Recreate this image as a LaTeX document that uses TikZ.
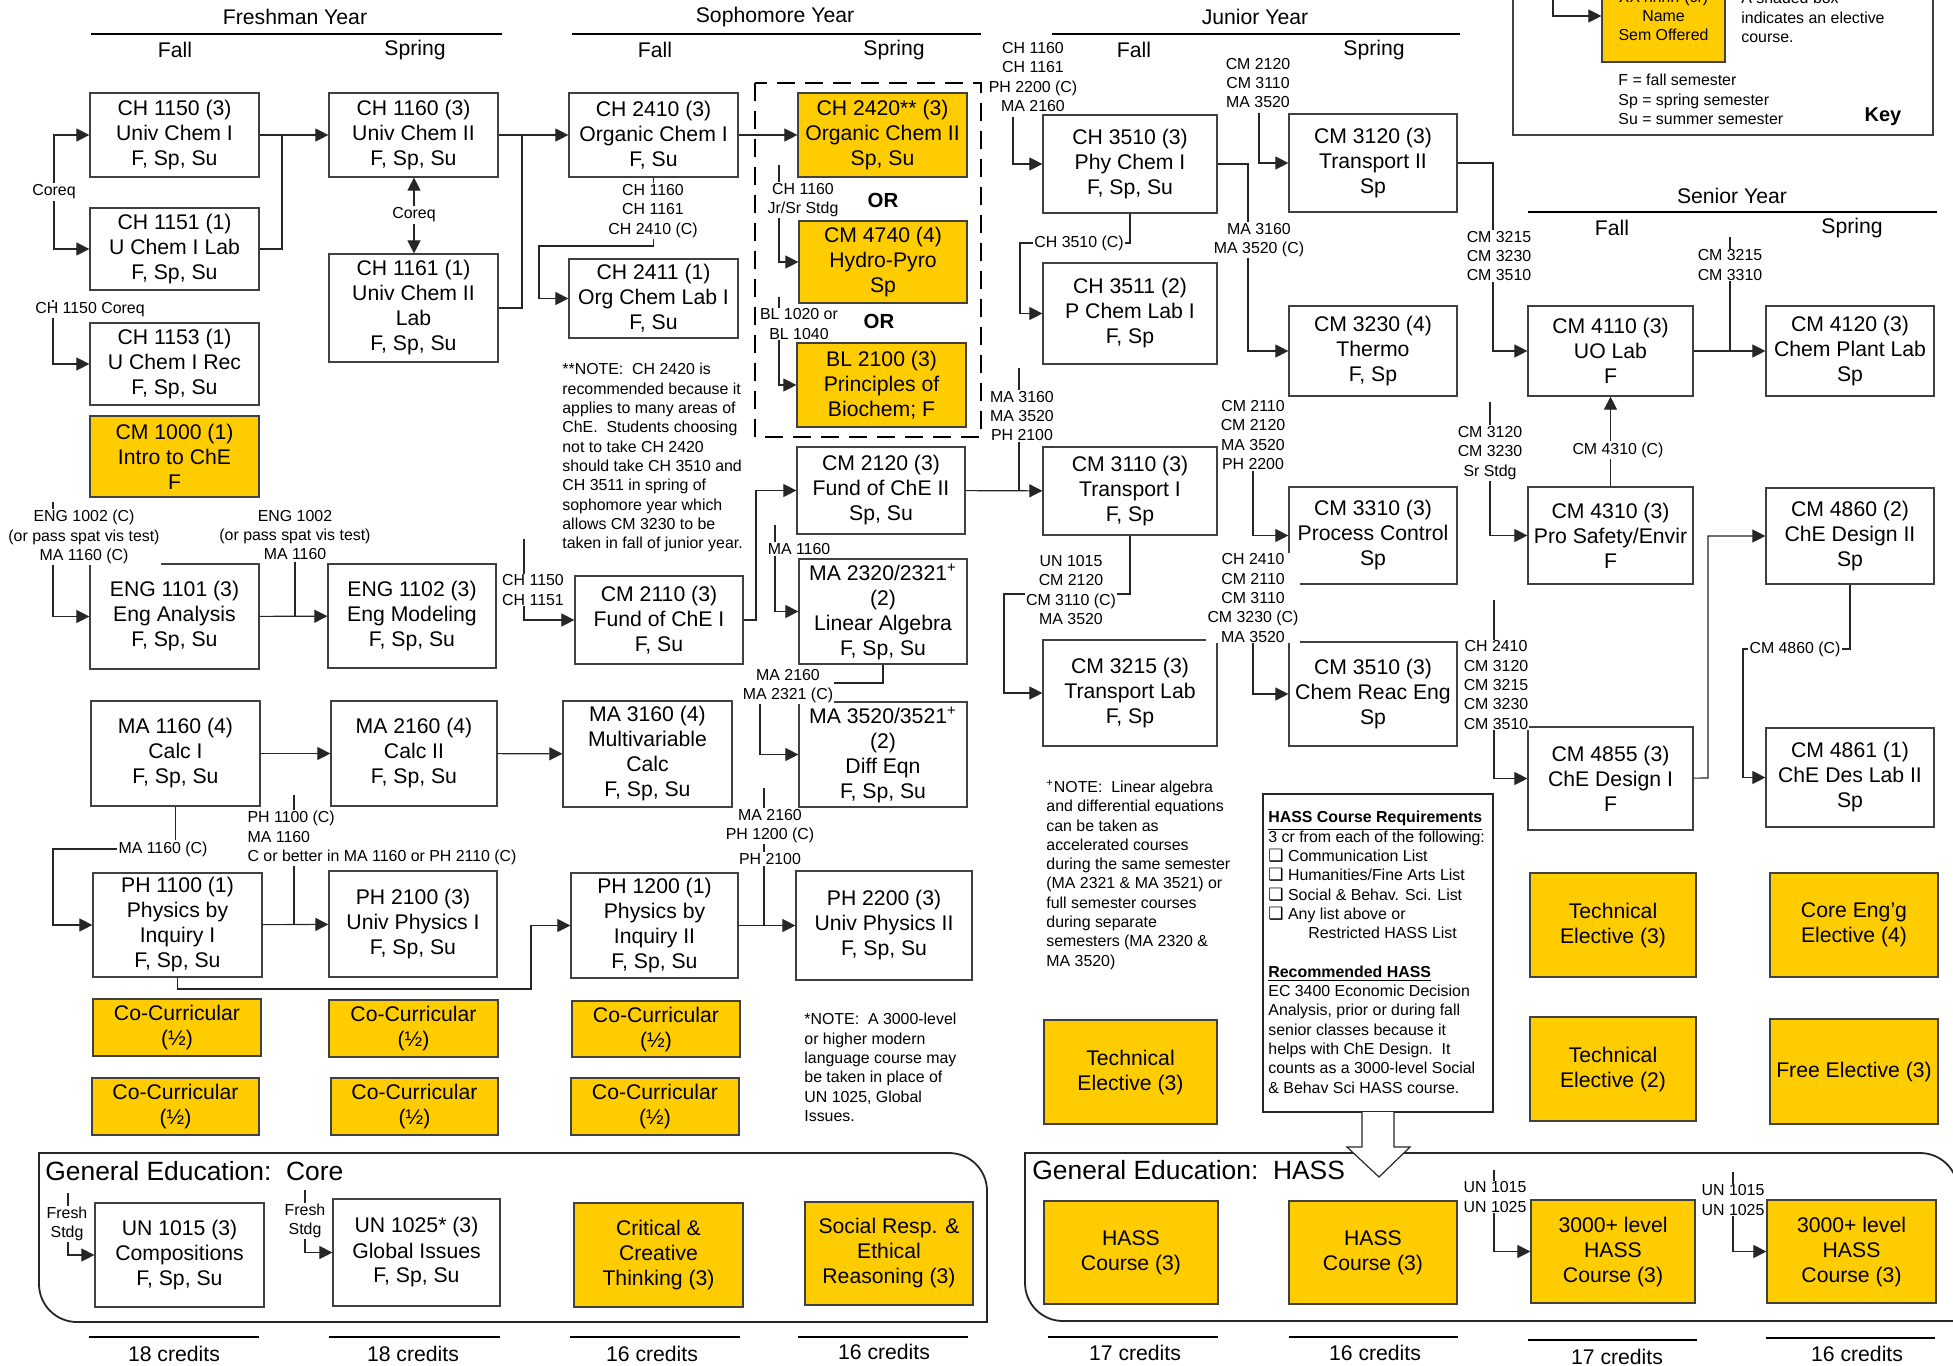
\documentclass[tikz,border=0pt]{standalone}
\usepackage{fontspec}
\setmainfont{Liberation Sans}
\newfontfamily\dvfont{DejaVu Sans}
\usetikzlibrary{arrows.meta}
\definecolor{ccyel}{HTML}{FFCC00}
\newcommand\boxfont{\fontsize{10.6}{12.5}\selectfont}
\newcommand\lblfont{\fontsize{7.95}{9.65}\selectfont}
\newcommand\hdrfont{\fontsize{10.6}{12.5}\selectfont}
\newcommand\genfont{\fontsize{13.2}{15}\selectfont}
\newcommand\hchk{{\dvfont\fontsize{8.5}{9.65}\selectfont ❑}}
\pgfdeclarelayer{fg}
\pgfsetlayers{main,fg}
\newcommand\cbx[7][]{\node[cbox,#1,minimum width={(#5-#3)*0.5pt},minimum height={(#6-#4)*0.5pt}] (#2) at ({(#3+#5)/2},{(#4+#6)/2}) {#7};}
\begin{document}
\begin{tikzpicture}[x=0.5pt,y=-0.5pt,
  cbox/.style={draw=black!75,line width=0.6pt,fill=white,align=center,font=\boxfont,inner sep=1pt},
  ybox/.style={fill=ccyel},
  lbl/.style={fill=white,align=center,font=\lblfont,inner sep=0.6pt},
  note/.style={align=left,font=\lblfont,inner sep=0pt,anchor=north west},
  conn/.style={draw=black!85,line width=0.55pt},
  arr/.style={conn,-{Triangle[length=6.5pt,width=6.5pt]}},
  hdr/.style={font=\hdrfont,inner sep=0pt},
  yrline/.style={line width=1.4pt},
  frame/.style={draw=black!85,line width=0.9pt}]
\fill[white] (0,0) rectangle (1953,1365);
\useasboundingbox (0,0) rectangle (1953,1365);

% ---------- headers ----------
\node[hdr] (hfr) at (295,17) {Freshman Year};
\draw[yrline] (91,34) -- (502,34);
\node[hdr] (hfr1) at (175,50) {Fall};
\node[hdr] (hfr2) at (415,50) {Spring};
\node[hdr] (hso) at (775,17) {Sophomore Year};
\draw[yrline] (572,34) -- (981,34);
\node[hdr] (hso1) at (655,50) {Fall};
\node[hdr] (hso2) at (894,50) {Spring};
\node[hdr] (hju) at (1255,17) {Junior Year};
\draw[yrline] (1052,34) -- (1460,34);
\node[hdr] (hju1) at (1134,50) {Fall};
\node[hdr] (hju2) at (1374,50) {Spring};
\node[hdr] (hse) at (1732,196) {Senior Year};
\draw[yrline] (1528,212) -- (1937,212);
\node[hdr] (hse1) at (1612,228) {Fall};
\node[hdr] (hse2) at (1852,228) {Spring};

% ---------- key ----------
\draw[draw=black!75,line width=0.6pt,fill=white] (1513,-30) rectangle (1933,135);
\node[cbox,ybox,minimum width=61.5pt,minimum height=46pt,font=\lblfont] (keyb) at (1663.5,16) {XX \textit{nnnn} (cr)\\Name\\Sem Offered};
\node[note] (keyt) at (1741,-8) {A shaded box\\indicates an elective\\course.};
\node[note] (keys) at (1618,74) {F = fall semester\\Sp = spring semester\\Su = summer semester};
\node[font=\fontsize{10}{12}\selectfont\bfseries] (keyk) at (1883,117) {Key};
\coordinate (k1) at (1553,-30);
\draw[arr] (k1) |- (keyb);

% ---------- gen ed frames ----------
\draw[frame] (39,1153) -- (949,1153) .. controls (970,1153) and (987,1170) .. (987,1191) -- (987,1322) -- (77,1322) .. controls (56,1322) and (39,1305) .. (39,1284) -- cycle;
\draw[frame] (1025,1153) -- (1920,1153) .. controls (1941,1153) and (1958,1170) .. (1958,1191) -- (1958,1321) -- (1063,1321) .. controls (1042,1321) and (1025,1304) .. (1025,1283) -- cycle;
\node[anchor=west,font=\genfont,inner sep=0pt] (gcore) at (45,1171) {General Education:\ \ Core};
\node[anchor=west,font=\genfont,inner sep=0pt] (ghass) at (1032,1170) {General Education:\ \ HASS};

% ---------- dashed OR box ----------
\draw[line width=1.3pt,dash pattern=on 9pt off 5pt] (755,83) rectangle (981,437);
\node[font=\fontsize{10.2}{12}\selectfont\bfseries] (or1) at (883,200) {OR};
\node[font=\fontsize{10.2}{12}\selectfont\bfseries] (or2) at (879,321) {OR};

% ---------- boxes: freshman ----------
\cbx{ch1150}{90}{93}{259}{177}{CH 1150 (3)\\Univ Chem I\\F, Sp, Su}
\cbx{ch1151}{90}{208}{259}{290}{CH 1151 (1)\\U Chem I Lab\\F, Sp, Su}
\cbx{ch1153}{90}{323}{259}{405}{CH 1153 (1)\\U Chem I Rec\\F, Sp, Su}
\cbx[ybox]{cm1000}{90}{416}{259}{497}{CM 1000 (1)\\Intro to ChE\\F}
\cbx{eng1101}{90}{564}{259}{669}{ENG 1101 (3)\\Eng Analysis\\F, Sp, Su}
\cbx{ma1160}{91}{701}{260}{806}{MA 1160 (4)\\Calc I\\F, Sp, Su}
\cbx{ph1100}{93}{873}{262}{977}{PH 1100 (1)\\Physics by\\Inquiry I\\F, Sp, Su}
\cbx[ybox]{cc1}{93}{999}{261}{1056}{Co-Curricular\\(½)}
\cbx[ybox]{cc2}{92}{1078}{259}{1135}{Co-Curricular\\(½)}
\cbx{un1015}{95}{1203}{264}{1307}{UN 1015 (3)\\Compositions\\F, Sp, Su}
\cbx{ch1160}{329}{93}{498}{177}{CH 1160 (3)\\Univ Chem II\\F, Sp, Su}
\cbx{ch1161}{329}{254}{498}{362}{CH 1161 (1)\\Univ Chem II\\Lab\\F, Sp, Su}
\cbx{eng1102}{328}{564}{496}{668}{ENG 1102 (3)\\Eng Modeling\\F, Sp, Su}
\cbx{ma2160}{331}{701}{497}{806}{MA 2160 (4)\\Calc II\\F, Sp, Su}
\cbx{ph2100}{329}{871}{497}{977}{PH 2100 (3)\\Univ Physics I\\F, Sp, Su}
\cbx[ybox]{cc3}{329}{1000}{498}{1057}{Co-Curricular\\(½)}
\cbx[ybox]{cc4}{331}{1078}{498}{1135}{Co-Curricular\\(½)}
\cbx{un1025}{333}{1199}{500}{1306}{UN 1025* (3)\\Global Issues\\F, Sp, Su}
% ---------- sophomore ----------
\cbx{ch2410}{569}{93}{738}{177}{CH 2410 (3)\\Organic Chem I\\F, Su}
\cbx{ch2411}{569}{259}{738}{338}{CH 2411 (1)\\Org Chem Lab I\\F, Su}
\cbx{cm2110}{575}{576}{743}{664}{CM 2110 (3)\\Fund of ChE I\\F, Su}
\cbx{ma3160}{563}{701}{732}{807}{MA 3160 (4)\\Multivariable\\Calc\\F, Sp, Su}
\cbx{ph1200}{571}{873}{738}{978}{PH 1200 (1)\\Physics by\\Inquiry II\\F, Sp, Su}
\cbx[ybox]{cc5}{572}{1001}{740}{1057}{Co-Curricular\\(½)}
\cbx[ybox]{cc6}{571}{1078}{739}{1135}{Co-Curricular\\(½)}
\cbx[ybox]{crit}{574}{1203}{743}{1307}{Critical \&\\Creative\\Thinking (3)}
\cbx[ybox]{ch2420}{798}{93}{967}{177}{CH 2420** (3)\\Organic Chem II\\Sp, Su}
\cbx[ybox]{cm4740}{799}{221}{967}{303}{CM 4740 (4)\\Hydro-Pyro\\Sp}
\cbx[ybox]{bl2100}{797}{343}{966}{427}{BL 2100 (3)\\Principles of\\Biochem; F}
\cbx{cm2120}{797}{447}{965}{534}{CM 2120 (3)\\Fund of ChE II\\Sp, Su}
\cbx{ma2320}{799}{559}{967}{664}{MA 2320/2321\textsuperscript{+}\\(2)\\Linear Algebra\\F, Sp, Su}
\cbx{ma3520}{799}{702}{967}{807}{MA 3520/3521\textsuperscript{+}\\(2)\\Diff Eqn\\F, Sp, Su}
\cbx{ph2200}{796}{871}{972}{980}{PH 2200 (3)\\Univ Physics II\\F, Sp, Su}
\cbx[ybox]{socr}{805}{1202}{973}{1305}{Social Resp. \&\\Ethical\\Reasoning (3)}
% ---------- junior ----------
\cbx{ch3510}{1043}{115}{1217}{213}{CH 3510 (3)\\Phy Chem I\\F, Sp, Su}
\cbx{ch3511}{1043}{263}{1217}{364}{CH 3511 (2)\\P Chem Lab I\\F, Sp}
\cbx{cm3110}{1043}{447}{1217}{535}{CM 3110 (3)\\Transport I\\F, Sp}
\cbx{cm3215}{1043}{640}{1217}{746}{CM 3215 (3)\\Transport Lab\\F, Sp}
\cbx[ybox]{te1}{1044}{1020}{1217}{1124}{Technical\\Elective (3)}
\cbx[ybox]{hass1}{1044}{1201}{1218}{1304}{HASS\\Course (3)}
\cbx{cm3120}{1289}{114}{1457}{212}{CM 3120 (3)\\Transport II\\Sp}
\cbx{cm3230}{1289}{306}{1457}{396}{CM 3230 (4)\\Thermo\\F, Sp}
\cbx{cm3310}{1289}{487}{1457}{584}{CM 3310 (3)\\Process Control\\Sp}
\cbx{cm3510}{1289}{642}{1457}{746}{CM 3510 (3)\\Chem Reac Eng\\Sp}
\cbx[ybox]{hass2}{1289}{1201}{1457}{1304}{HASS\\Course (3)}
% ---------- senior ----------
\cbx{cm4110}{1528}{306}{1693}{396}{CM 4110 (3)\\UO Lab\\F}
\cbx{cm4310}{1528}{487}{1693}{584}{CM 4310 (3)\\Pro Safety/Envir\\F}
\cbx{cm4855}{1528}{727}{1693}{830}{CM 4855 (3)\\ChE Design I\\F}
\cbx[ybox]{te2}{1530}{873}{1696}{977}{Technical\\Elective (3)}
\cbx[ybox]{te3}{1530}{1017}{1696}{1121}{Technical\\Elective (2)}
\cbx[ybox]{hk1}{1531}{1200}{1695}{1303}{3000+ level\\HASS\\Course (3)}
\cbx{cm4120}{1766}{306}{1934}{396}{CM 4120 (3)\\Chem Plant Lab\\Sp}
\cbx{cm4860}{1766}{488}{1934}{584}{CM 4860 (2)\\ChE Design II\\Sp}
\cbx{cm4861}{1766}{728}{1934}{827}{CM 4861 (1)\\ChE Des Lab II\\Sp}
\cbx[ybox]{ceng}{1770}{873}{1938}{977}{Core Eng’g\\Elective (4)}
\cbx[ybox]{free}{1770}{1019}{1938}{1124}{Free Elective (3)}
\cbx[ybox]{hk2}{1767}{1200}{1936}{1303}{3000+ level\\HASS\\Course (3)}

% ---------- HASS requirement box ----------
\draw[draw=black!85,line width=0.6pt,fill=white] (1263,794) rectangle (1493,1112);
\node[note] (hreq) at (1268,811) {\underline{\textbf{HASS Course Requirements}}\\3 cr from each of the following:\\\hchk\ Communication List\\\hchk\ Humanities/Fine Arts List\\\hchk\ Social \& Behav. Sci. List\\\hchk\ Any list above or\\\hspace*{20pt}Restricted HASS List\\[9.65pt]\underline{\textbf{Recommended HASS}}\\EC 3400 Economic Decision\\Analysis, prior or during fall\\senior classes because it\\helps with ChE Design.\ \ It\\counts as a 3000-level Social\\\& Behav Sci HASS course.};
\draw[draw=black!85,line width=0.6pt,fill=white] (1362,1112) -- (1362,1147) -- (1347,1147) -- (1379,1177) -- (1410,1147) -- (1394,1147) -- (1394,1112);

% ---------- notes ----------
\node[note] (n1) at (562,363) {**NOTE:\ \ CH 2420 is\\recommended because it\\applies to many areas of\\ChE.\ \ Students choosing\\not to take CH 2420\\should take CH 3510 and\\CH 3511 in spring of\\sophomore year which\\allows CM 3230 to be\\taken in fall of junior year.};
\node[note] (n2) at (1046,780) {\textsuperscript{+}NOTE:\ \ Linear algebra\\and differential equations\\can be taken as\\accelerated courses\\during the same semester\\(MA 2321 \& MA 3521) or\\full semester courses\\during separate\\semesters (MA 2320 \&\\MA 3520)};
\node[note] (n3) at (804,1013) {*NOTE:\ \ A 3000-level\\or higher modern\\language course may\\be taken in place of\\UN 1025, Global\\Issues.};

% ---------- credits ----------
\foreach \a/\b/\y/\c/\ty/\t [count=\i] in {89/259/1337/174/1354/18,329/500/1337/413/1354/18,570/740/1337/652/1354/16,798/968/1337/884/1352/16,1048/1218/1337/1135/1353/17,1289/1458/1337/1375/1353/16,1528/1697/1340/1617/1357/17,1766/1935/1338/1857/1354/16}{
  \draw[yrline] (\a,\y) -- (\b,\y);
  \node[hdr] (cr\i) at (\c,\ty) {\t\ credits};
}

% ---------- labels (foreground) ----------
\begin{pgfonlayer}{fg}
\node[lbl] (l1) at (54,192) {Coreq};
\node[lbl] (l2) at (414,215) {Coreq};
\node[lbl] (l3) at (90,310) {CH 1150 Coreq};
\node[lbl] (l4) at (84,537) {ENG 1002 (C)\\(or pass spat vis test)\\MA 1160 (C)};
\node[lbl] (l5) at (295,535) {ENG 1002\\(or pass spat vis test)\\MA 1160};
\node[lbl] (l6) at (163,849) {MA 1160 (C)};
\node[lbl,align=left,anchor=west] (l7) at (246,838) {PH 1100 (C)\\MA 1160\\C or better in MA 1160 or PH 2110 (C)};
\node[lbl] (l8) at (653,211) {CH 1160\\CH 1161\\CH 2410 (C)};
\node[lbl] (l9) at (803,200) {CH 1160\\Jr/Sr Stdg};
\node[lbl] (l10) at (799,324) {BL 1020 or\\BL 1040};
\node[lbl] (l11) at (533,590) {CH 1150\\CH 1151};
\node[lbl] (l12) at (799,549) {MA 1160};
\node[lbl] (l13) at (788,686) {MA 2160\\MA 2321 (C)};
\node[lbl] (l14) at (770,826) {MA 2160\\PH 1200 (C)};
\node[lbl] (l15) at (770,859) {PH 2100};
\node[lbl] (l16) at (1033,77) {CH 1160\\CH 1161\\PH 2200 (C)\\MA 2160};
\node[lbl] (l17) at (1079,243) {CH 3510 (C)};
\node[lbl] (l18) at (1259,240) {MA 3160\\MA 3520 (C)};
\node[lbl] (l19) at (1258,83) {CM 2120\\CM 3110\\MA 3520};
\node[lbl] (l20) at (1022,416) {MA 3160\\MA 3520\\PH 2100};
\node[lbl] (l21) at (1253,435) {CM 2110\\CM 2120\\MA 3520\\PH 2200};
\node[lbl] (l22) at (1071,590) {UN 1015\\CM 2120\\CM 3110 (C)\\MA 3520};
\node[lbl] (l23) at (1253,598) {CH 2410\\CM 2110\\CM 3110\\CM 3230 (C)\\MA 3520};
\node[lbl] (l24) at (1499,256) {CM 3215\\CM 3230\\CM 3510};
\node[lbl] (l25) at (1730,265) {CM 3215\\CM 3310};
\node[lbl] (l26) at (1618,450) {CM 4310 (C)};
\node[lbl] (l27) at (1490,453) {CM 3120\\CM 3230\\Sr Stdg};
\node[lbl] (l28) at (1795,649) {CM 4860 (C)};
\node[lbl] (l29) at (1496,685) {CH 2410\\CM 3120\\CM 3215\\CM 3230\\CM 3510};
\node[lbl] (l30) at (1495,1197) {UN 1015\\UN 1025};
\node[lbl] (l31) at (1733,1200) {UN 1015\\UN 1025};
\node[lbl] (l32) at (67,1224) {Fresh\\Stdg};
\node[lbl] (l33) at (305,1221) {Fresh\\Stdg};
\end{pgfonlayer}

% ---------- connectors ----------
\coordinate (j1) at (282,135);
\coordinate (t3) at (53,300);
\coordinate (t4) at (53,502);
\coordinate (c6) at (53,849);
\coordinate (t7) at (294,795);
\coordinate (c10) at (531,989);
\coordinate (j2) at (522,135);
\coordinate (c12) at (539,246);
\coordinate (t14) at (779,165);
\coordinate (t15) at (779,297);
\coordinate (t16) at (524,539);
\coordinate (c17) at (756,620);
\coordinate (t18) at (775,525);
\coordinate (c19) at (760,683);
\coordinate (t21) at (764,788);
\coordinate (t22) at (1013,117);
\coordinate (c23) at (1020,243);
\coordinate (c24) at (1248,164);
\coordinate (t25) at (1259,113);
\coordinate (t27) at (1019,368);
\coordinate (c28) at (1004,594);
\coordinate (t29) at (1253,450);
\coordinate (t30) at (1253,580);
\coordinate (c31) at (1493,163);
\coordinate (t32) at (1730,237);
\coordinate (t34) at (1490,402);
\coordinate (c35) at (1708,778);
\coordinate (c36) at (1743,649);
\coordinate (t37) at (1494,600);
\coordinate (t38) at (1494,1170);
\coordinate (t39) at (1733,1172);
\coordinate (t40) at (68,1193);
\coordinate (t41) at (305,1190);

\draw[arr] (l1) |- (ch1150);
\draw[arr] (l1) |- (ch1151);
\draw[arr] (ch1150) -- (ch1160);
\draw[conn] (ch1151.east) -| (j1);
\draw[arr] (l2.north) -- (l2.north |- ch1160.south);
\draw[arr] (l2.south) -- (l2.south |- ch1161.north);
\draw[arr] (t3) |- (ch1153);
\draw[arr] (t4) |- (eng1101);
\draw[arr] (eng1101) -- (eng1102);
\draw[conn] (l5) -- (l5 |- eng1102.west);
\draw[arr] (ma1160) -- (ma2160);
\draw[arr] (ma1160.south) |- (c6) |- (ph1100);
\draw[conn] (t7) -- (t7 |- ph2100.west);
\draw[arr] (ph1100) -- (ph2100);
\draw[arr] (ph1100.south) |- (c10) |- (ph1200);
\draw[arr] (ch1160) -- (ch2410);
\draw[conn] (ch1161.east) -| (j2);
\draw[arr] (ch2410.south) |- (c12) |- (ch2411);
\draw[arr] (ch2410) -- (ch2420);
\draw[arr] (t14) |- (cm4740);
\draw[arr] (t15) |- (bl2100);
\draw[arr] (t16) |- (cm2110);
\draw[arr] (cm2110) -- (c17) |- (cm2120);
\draw[arr] (t18) |- (ma2320);
\draw[arr] (ma2320.south) |- (c19) |- (ma3520);
\draw[arr] (ma2160) -- (ma3160);
\draw[arr] (ph1200) -- (ph2200);
\draw[conn] (t21) -- (t21 |- ph2200.west);
\draw[arr] (t22) |- (ch3510);
\draw[arr] (ch3510.south) |- (c23) |- (ch3511);
\draw[arr] (ch3510) -- (c24) |- (cm3230);
\draw[arr] (t25) |- (cm3120);
\draw[arr] (cm2120) -- (cm3110);
\draw[conn] (t27) -- (t27 |- cm3110.west);
\draw[arr] (cm3110.south) |- (c28) |- (cm3215);
\draw[arr] (t29) |- (cm3310);
\draw[arr] (t30) |- (cm3510);
\draw[arr] (cm3120) -- (c31) |- (cm4110);
\draw[arr] (cm4110) -- (cm4120);
\draw[conn] (t32) -- (t32 |- cm4120.west);
\draw[arr] (cm4310) -- (cm4110);
\draw[arr] (t34) |- (cm4310);
\draw[arr] (cm4855) -- (c35) |- (cm4860);
\draw[arr] (cm4860.south) |- (c36) |- (cm4861);
\draw[arr] (t37) |- (cm4855);
\draw[arr] (t38) |- (hk1);
\draw[arr] (t39) |- (hk2);
\draw[arr] (t40) |- (un1015);
\draw[arr] (t41) |- (un1025);
\end{tikzpicture}
\end{document}
